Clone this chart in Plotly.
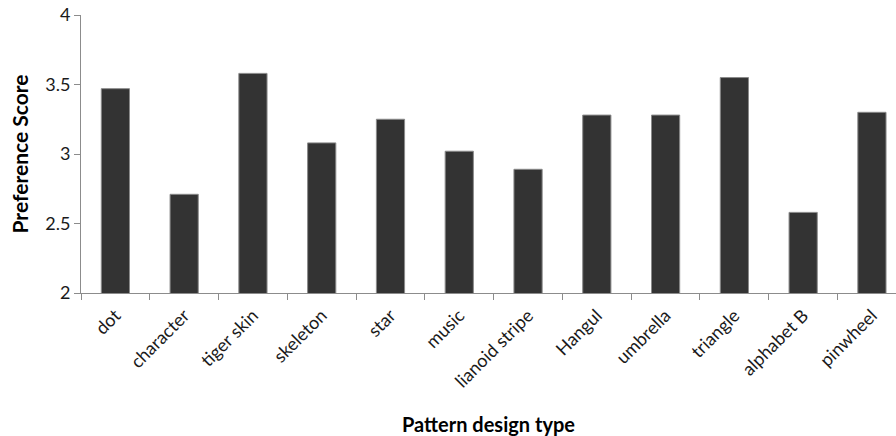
import plotly.graph_objects as go

categories = ["dot", "character", "tiger skin", "skeleton", "star", "music",
              "lianoid stripe", "Hangul", "umbrella", "triangle", "alphabet B", "pinwheel"]
scores = [3.47, 2.71, 3.58, 3.08, 3.25, 3.02, 2.89, 3.28, 3.28, 3.55, 2.58, 3.30]
y_ticks = [2, 2.5, 3, 3.5, 4]
y_tick_labels = ["2", "2.5", "3", "3.5", "4"]

fig = go.Figure(go.Bar(
    x=categories, y=scores,
    marker=dict(color="#333333", line=dict(color="#8a8a8a", width=1)),
))

fig.update_layout(
    width=896, height=436,
    margin=dict(l=81, r=0, t=15, b=143),
    paper_bgcolor="white", plot_bgcolor="white",
    bargap=0.59,
    showlegend=False,
    font=dict(family="Lato, Open Sans, sans-serif", color="#1a1a1a"),
)
fig.update_xaxes(
    range=[-0.5, 11.35], automargin=False,
    showline=True, linecolor="#8c8c8c", linewidth=1,
    ticks="outside", ticklen=6, tickcolor="#8c8c8c", tickson="boundaries",
    tickangle=-45, tickfont=dict(size=18, color="#1a1a1a"), ticklabelstandoff=4,
    showgrid=False,
    title=dict(text="<b>Pattern design type</b>", font=dict(size=20, color="black"), standoff=90),
)
fig.update_yaxes(
    range=[2, 4], tickvals=y_ticks, ticktext=y_tick_labels, automargin=False,
    showline=True, linecolor="#8c8c8c", linewidth=1,
    ticks="outside", ticklen=6, tickcolor="#8c8c8c",
    tickfont=dict(size=18, color="#1a1a1a"),
    showgrid=False, zeroline=False,
    title=dict(text="<b>Preference Score</b>", font=dict(size=21, color="black"), standoff=10),
)

fig.write_html(
    "out.html",
    config={"displayModeBar": False},
    post_script="document.body.style.margin='0';document.body.style.overflow='hidden';",
)
